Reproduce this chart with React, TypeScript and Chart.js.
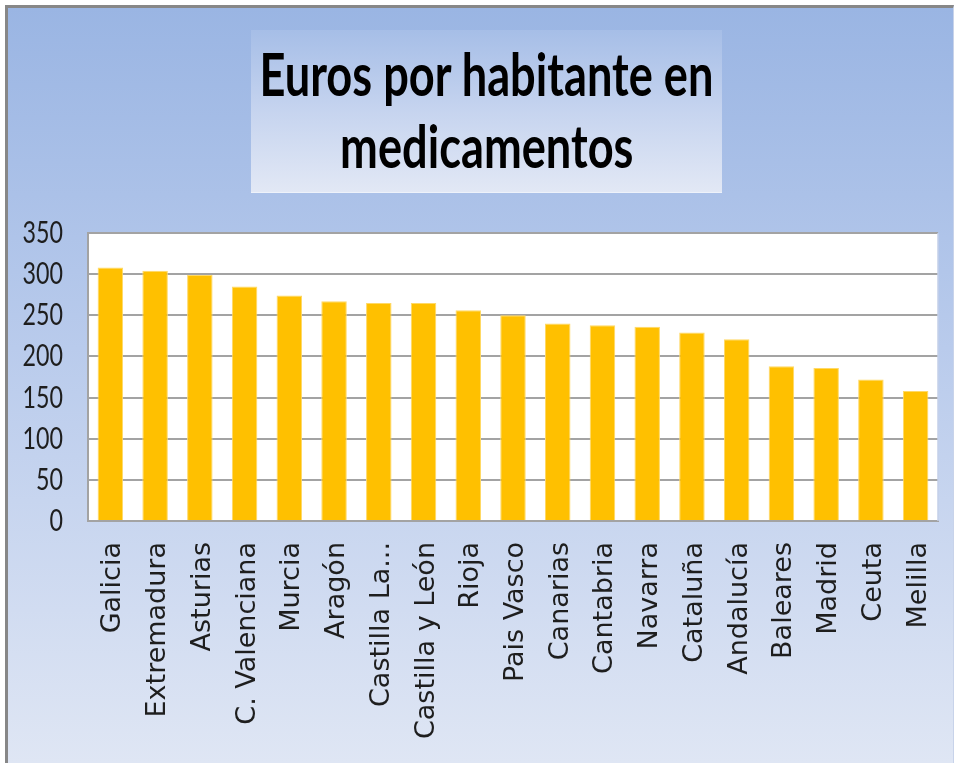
import React, { useEffect, useLayoutEffect, useRef } from "react";
import { Chart, registerables } from "chart.js";

Chart.register(...registerables);

const titleLines = ["Euros por habitante en", "medicamentos"];

const regions = [
  "Galicia",
  "Extremadura",
  "Asturias",
  "C. Valenciana",
  "Murcia",
  "Aragón",
  "Castilla La...",
  "Castilla y León",
  "Rioja",
  "Pais Vasco",
  "Canarias",
  "Cantabria",
  "Navarra",
  "Cataluña",
  "Andalucía",
  "Baleares",
  "Madrid",
  "Ceuta",
  "Melilla",
];

const eurosPerInhabitant = [
  308, 304, 299, 285, 274, 267, 265, 265, 256, 250, 240, 238, 236, 229, 221,
  188, 186, 172, 158,
];

const yMin = 0;
const yMax = 350;
const yStep = 50;

const plotBackground = {
  id: "plotBackground",
  beforeDraw(chart: any) {
    const { ctx, chartArea } = chart;
    const { left, top, right, bottom } = chartArea;
    ctx.save();
    ctx.fillStyle = "#ffffff";
    ctx.fillRect(left, top, right - left, bottom - top);
    ctx.restore();
  },
  afterDraw(chart: any) {
    const { ctx, chartArea } = chart;
    const { top, right, bottom } = chartArea;
    ctx.save();
    ctx.strokeStyle = "#c3cfe8";
    ctx.lineWidth = 1.5;
    ctx.beginPath();
    ctx.moveTo(right, top);
    ctx.lineTo(right, bottom);
    ctx.stroke();
    ctx.restore();
  },
};

export default function App() {
  const canvasRef = useRef<HTMLCanvasElement | null>(null);
  const titleRef = useRef<HTMLDivElement | null>(null);

  useLayoutEffect(() => {
    document.body.style.margin = "0";
    const box = titleRef.current;
    if (!box) return;
    const spans = Array.from(box.querySelectorAll("span")) as HTMLSpanElement[];
    if (spans.length) {
      const w = spans[0].getBoundingClientRect().width;
      const k = w > 0 ? 454 / w : 1;
      spans.forEach((s) => {
        s.style.transform = `scaleX(${k})`;
      });
    }
  }, []);

  useEffect(() => {
    const canvas = canvasRef.current;
    if (!canvas) return;
    const chart = new Chart(canvas, {
      type: "bar",
      data: {
        labels: regions,
        datasets: [
          {
            data: eurosPerInhabitant,
            backgroundColor: "#FFC000",
            borderColor: "#FFD966",
            borderWidth: 1,
            barPercentage: 0.57,
            categoryPercentage: 1,
          },
        ],
      },
      options: {
        responsive: false,
        animation: false,
        devicePixelRatio: 1,
        layout: { padding: { top: 233, right: 16, left: 0, bottom: 0 } },
        plugins: {
          legend: { display: false },
          title: { display: false },
          tooltip: { enabled: false },
        },
        scales: {
          x: {
            afterFit: (scale: any) => {
              scale.height = 242;
              scale.paddingRight = 0;
              scale.paddingLeft = 0;
            },
            grid: { display: false, drawTicks: false },
            border: { display: true, color: "#a3a3a3", width: 2 },
            ticks: {
              autoSkip: false,
              maxRotation: 90,
              minRotation: 90,
              padding: 21,
              labelOffset: 3,
              color: "#1e1e1e",
              font: { family: "'DejaVu Sans', sans-serif", size: 27 },
            },
          },
          y: {
            min: yMin,
            max: yMax,
            afterFit: (scale: any) => {
              scale.width = 88;
              if (!scale.__narrowLabels) {
                scale.__narrowLabels = true;
                const orig = scale.drawLabels.bind(scale);
                scale.drawLabels = (area: any) => {
                  const ctx = scale.ctx;
                  const x0 = scale.right - 25;
                  ctx.save();
                  ctx.translate(x0, 0);
                  ctx.scale(0.75, 1);
                  ctx.translate(-x0, 0);
                  orig(area);
                  ctx.restore();
                };
              }
            },
            grid: { color: "#a3a3a3", lineWidth: 2, drawTicks: false },
            border: { display: true, color: "#a3a3a3", width: 2 },
            ticks: {
              stepSize: yStep,
              padding: 25,
              color: "#1e1e1e",
              font: { family: "Lato, 'Liberation Sans', sans-serif", size: 31 },
            },
          },
        },
      },
      plugins: [plotBackground],
    });
    return () => chart.destroy();
  }, []);

  return (
    <div
      style={{
        position: "relative",
        width: 954,
        height: 763,
        background: "#ffffff",
        overflow: "hidden",
      }}
    >
      <div
        style={{
          position: "absolute",
          left: 5,
          top: 5,
          width: 949,
          height: 758,
          boxSizing: "border-box",
          borderTop: "3px solid #878787",
          borderLeft: "3px solid #878787",
          borderRight: "1px solid #c8d3ea",
          background: "linear-gradient(to bottom, #9ab5e3 0%, #b9cbec 45%, #dfe6f4 100%)",
        }}
      />
      <div
        style={{
          position: "absolute",
          left: 251,
          top: 30,
          width: 471,
          height: 163,
          background: "linear-gradient(to bottom, #a6bee7 0%, #c6d4ef 50%, #e2e8f5 100%)",
          borderBottom: "1px solid #eef2fa",
          boxSizing: "border-box",
        }}
      />
      <div
        ref={titleRef}
        style={{
          position: "absolute",
          left: 251,
          top: 37,
          width: 471,
          textAlign: "center",
          fontFamily: "Lato, 'Open Sans', sans-serif",
          fontWeight: 700,
          fontSize: 60,
          lineHeight: "72px",
          color: "#000000",
        }}
      >
        {titleLines.map((line, i) => (
          <div key={i} style={{ whiteSpace: "nowrap", display: "flex", justifyContent: "center" }}>
            <span style={{ display: "inline-block", transformOrigin: "center" }}>{line}</span>
          </div>
        ))}
      </div>
      <canvas
        ref={canvasRef}
        width={954}
        height={763}
        style={{ position: "absolute", left: 0, top: 0, width: 954, height: 763 }}
      />
    </div>
  );
}
